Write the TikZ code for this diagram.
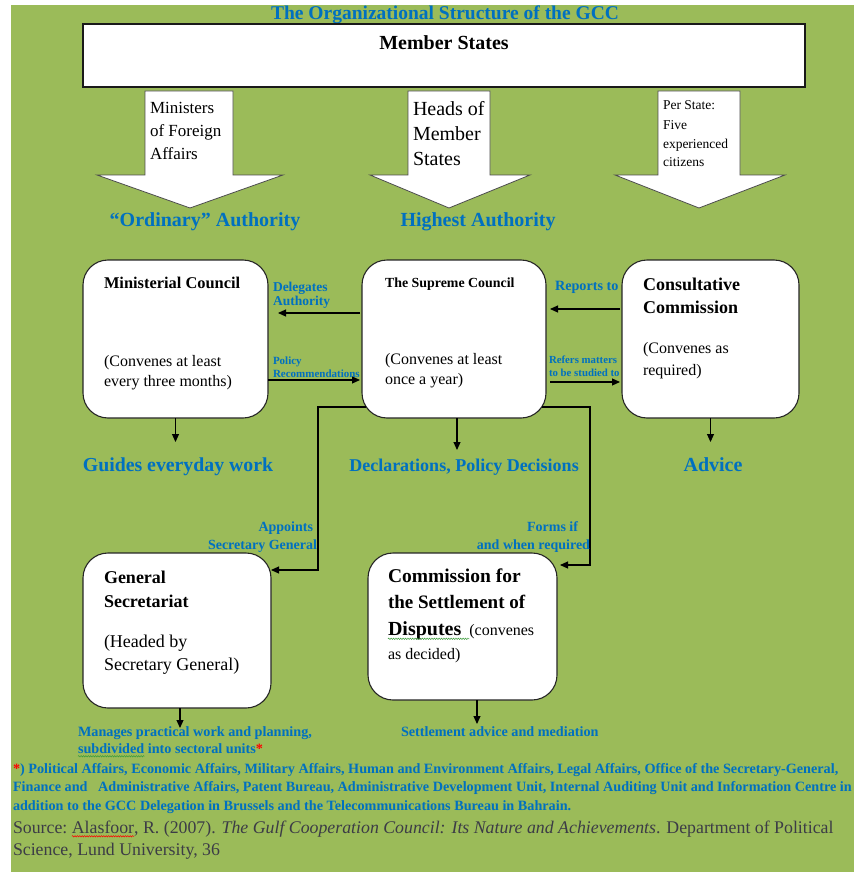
\documentclass[tikz,border=0pt]{standalone}
\usepackage{fontspec}
\setmainfont{Liberation Serif}
\usetikzlibrary{arrows.meta,decorations.pathmorphing}
\definecolor{bg}{HTML}{9BBB59}
\definecolor{lblue}{HTML}{0070C0}
\definecolor{srcgray}{HTML}{3C3C46}
\definecolor{spellgreen}{HTML}{3A9A3A}
\newcommand{\fsz}[1]{\fontsize{#1}{#1}\selectfont}
\begin{document}
\begin{tikzpicture}[x=1pt,y=-1pt,
  every node/.style={inner sep=0pt, outer sep=0pt},
  arr/.style={-{Triangle[length=8pt,width=7pt]}, line width=1.1pt, draw=black},
  rbox/.style={draw=black!85, line width=1.1pt, fill=white, rounded corners=25pt, rectangle},
  barrow/.style={draw=black!70, line width=0.8pt, fill=white},
  txt/.style={yshift=-3.5pt},
  ttl/.style={txt, anchor=mid, font=\fsz{#1}\bfseries, text=lblue},
  lbl/.style={txt, anchor=mid west, font=\fsz{#1}\bfseries, text=lblue},
  lblr/.style={txt, anchor=mid east, font=\fsz{#1}\bfseries, text=lblue},
  bt/.style={txt, anchor=mid west, font=\fsz{#1}\bfseries, text=black},
  rt/.style={txt, anchor=mid west, font=\fsz{#1}, text=black},
  src/.style={txt, anchor=mid west, font=\fsz{17.8}, text=srcgray},
  cont/.style={anchor=base west},
  wavy/.style={draw=#1, line width=0.5pt, decorate, decoration={snake, amplitude=0.7pt, segment length=2.4pt}}
]
\useasboundingbox (0,0) rectangle (854,872);
\fill[bg] (11,5) rectangle (854,872);

% title and member states
\node[ttl=19.5] (title) at (445,13.5) {The Organizational Structure of the GCC};
\node[draw=black!90, line width=1.3pt, fill=white, minimum width=722pt, minimum height=63pt] (ms) at (444,55.5) {};
\node[txt, anchor=mid, font=\fsz{20}\bfseries] (mst) at (444,44) {Member States};

% block arrows
\draw[barrow] (145,91) -- (233,91) -- (233,175) -- (283,175) -- (190,208) -- (97,175) -- (145,175) -- cycle;
\draw[barrow] (408,91) -- (490,91) -- (490,175) -- (530,175) -- (449,208) -- (370,175) -- (408,175) -- cycle;
\draw[barrow] (658,91) -- (740,91) -- (740,175) -- (785,175) -- (699,208) -- (615,175) -- (658,175) -- cycle;
\node[rt=17] (a1) at (150,108) {Ministers};
\node[rt=17] (a2) at (150,131) {of Foreign};
\node[rt=17] (a3) at (150,154) {Affairs};
\node[rt=20] (b1) at (413,110) {Heads of};
\node[rt=20] (b2) at (413,135) {Member};
\node[rt=20] (b3) at (413,160) {States};
\node[rt=13.5] (c1) at (663,104) {Per State:};
\node[rt=13.5] (c2) at (663,124) {Five};
\node[rt=13.5] (c3) at (663,143) {experienced};
\node[rt=13.5] (c4) at (663,161) {citizens};
\node[ttl=20] (ord) at (205,221) {“Ordinary” Authority};
\node[ttl=20] (high) at (478,221) {Highest Authority};

% main boxes
\node[rbox, minimum width=185pt, minimum height=158pt] (min) at (175.5,339) {};
\node[rbox, minimum width=184pt, minimum height=158pt] (sup) at (454,339) {};
\node[rbox, minimum width=177pt, minimum height=158pt] (con) at (710.5,339) {};
\node[rbox, minimum width=188pt, minimum height=155pt] (gen) at (177,630.5) {};
\node[rbox, minimum width=189pt, minimum height=147pt] (com) at (462.5,626.5) {};

\node[bt=16.4] (m1) at (104,283) {Ministerial Council};
\node[rt=16] (m2) at (104,361) {(Convenes at least};
\node[rt=16] (m3) at (104,381) {every three months)};
\node[bt=13.9] (s1) at (385,282) {The Supreme Council};
\node[rt=16] (s2) at (385,359) {(Convenes at least};
\node[rt=16] (s3) at (385,379) {once a year)};
\node[bt=18] (k1) at (643,285) {Consultative};
\node[bt=18] (k2) at (643,308) {Commission};
\node[rt=16] (k3) at (643,348) {(Convenes as};
\node[rt=16] (k4) at (643,370) {required)};
\node[bt=18] (g1) at (104,578) {General};
\node[bt=18] (g2) at (104,602) {Secretariat};
\node[rt=18] (g3) at (104,642) {(Headed by};
\node[rt=18] (g4) at (104,665) {Secretary General)};
\node[bt=19.5] (d1) at (388,577) {Commission for};
\node[bt=19] (d2) at (388,603) {the Settlement of};
\node[bt=20] (d3) at (388,630) {Disputes};
\node[cont, font=\fsz{16}] (d3b) at (d3.base east) {\ \ (convenes};
\node[rt=16] (d4) at (388,654) {as decided)};
\draw[wavy=spellgreen] ([yshift=-3pt]d3.base west) -- ([yshift=-3pt,xshift=8pt]d3.base east);

% horizontal connectors
\coordinate (y313) at (0,313);
\coordinate (y380) at (0,380);
\coordinate (y309) at (0,309);
\coordinate (y382) at (0,382);
\draw[arr, shorten <=2pt, shorten >=10pt] (sup.west |- y313) -- (min.east |- y313);
\draw[arr, shorten >=2pt] (min.east |- y380) -- (sup.west |- y380);
\draw[arr, shorten <=2pt, shorten >=4pt] (con.west |- y309) -- (sup.east |- y309);
\draw[arr, shorten <=4pt, shorten >=2pt] (sup.east |- y382) -- (con.west |- y382);
\node[lbl=13.5] (l1) at (273,286) {Delegates};
\node[lbl=13.5] (l2) at (273,300) {Authority};
\node[lbl=11] (l3) at (273,359) {Policy};
\node[lbl=11] (l4) at (273,372) {Recommendations};
\node[lbl=14.2] (l5) at (555,285) {Reports to};
\node[lbl=10.8] (l6) at (549,358) {Refers matters};
\node[lbl=10.8] (l7) at (549,371) {to be studied to};

% outputs of row 2
\node[ttl=19.8] (guide) at (178,466) {Guides everyday work};
\node[ttl=18] (decl) at (464,466) {Declarations, Policy Decisions};
\node[ttl=20] (adv) at (713,466) {Advice};
\coordinate (y442) at (0,442);
\coordinate (y450) at (0,450);
\draw[arr] (min.south) -- (min.south |- y442);
\draw[arr] ([xshift=3pt]sup.south) -- ([xshift=3pt]sup.south |- y450);
\draw[arr] (con.south) -- (con.south |- y442);

% elbow connectors
\coordinate (y407) at (0,407);
\coordinate (ap) at (318,570);
\coordinate (fm) at (590,565);
\draw[arr] ([xshift=4pt]sup.west |- y407) -| (ap) -- (gen.east |- ap);
\draw[arr] ([xshift=-4pt]sup.east |- y407) -| (fm) -- ([xshift=3pt]com.east |- fm);
\node[lblr=14] (p1) at (313,526) {Appoints};
\node[lblr=14] (p2) at (317,544) {Secretary General};
\node[lblr=14] (f1) at (578,526) {Forms if};
\node[lblr=14] (f2) at (590,544) {and when required};

% bottom outputs
\coordinate (y728) at (0,728);
\coordinate (y724) at (0,724);
\draw[arr] ([xshift=3pt]gen.south) -- ([xshift=3pt]gen.south |- y728);
\draw[arr] ([xshift=14.5pt]com.south) -- ([xshift=14.5pt]com.south |- y724);
\node[lbl=14.2] (o1) at (78,731) {Manages practical work and planning,};
\node[lbl=14.2] (o2) at (78,748) {subdivided};
\node[cont, font=\fsz{14.2}\bfseries, text=lblue] (o2b) at (o2.base east) {\ into sectoral units\textcolor{red}{*}};
\draw[wavy=spellgreen] ([yshift=-2.5pt]o2.base west) -- ([yshift=-2.5pt]o2.base east);
\node[lbl=14.2] (o3) at (401,731) {Settlement advice and mediation};

% footnote
\node[lbl=14.2] (n1) at (13,768) {\textcolor{red}{*}) Political Affairs, Economic Affairs, Military Affairs, Human and Environment Affairs, Legal Affairs, Office of the Secretary-General,};
\node[lbl=14.2] (n2) at (13,786) {Finance and \ \ Administrative Affairs, Patent Bureau, Administrative Development Unit, Internal Auditing Unit and Information Centre in};
\node[lbl=14.2] (n3) at (13,805) {addition to the GCC Delegation in Brussels and the Telecommunications Bureau in Bahrain.};
\node[src] (src1) at (13,828) {Source:};
\node[cont, font=\fsz{17.8}, text=srcgray] (alas) at ([xshift=4.5pt]src1.base east) {Alasfoor};
\node[cont, font=\fsz{17.8}, text=srcgray] (src1b) at (alas.base east) {, R. (2007). \textit{The Gulf Cooperation Council: Its Nature and Achievements}. Department of Political};
\draw[wavy=red] ([yshift=-2.5pt]alas.base west) -- ([yshift=-2.5pt]alas.base east);
\node[src] (src2) at (13,850) {Science, Lund University, 36};
\end{tikzpicture}
\end{document}
